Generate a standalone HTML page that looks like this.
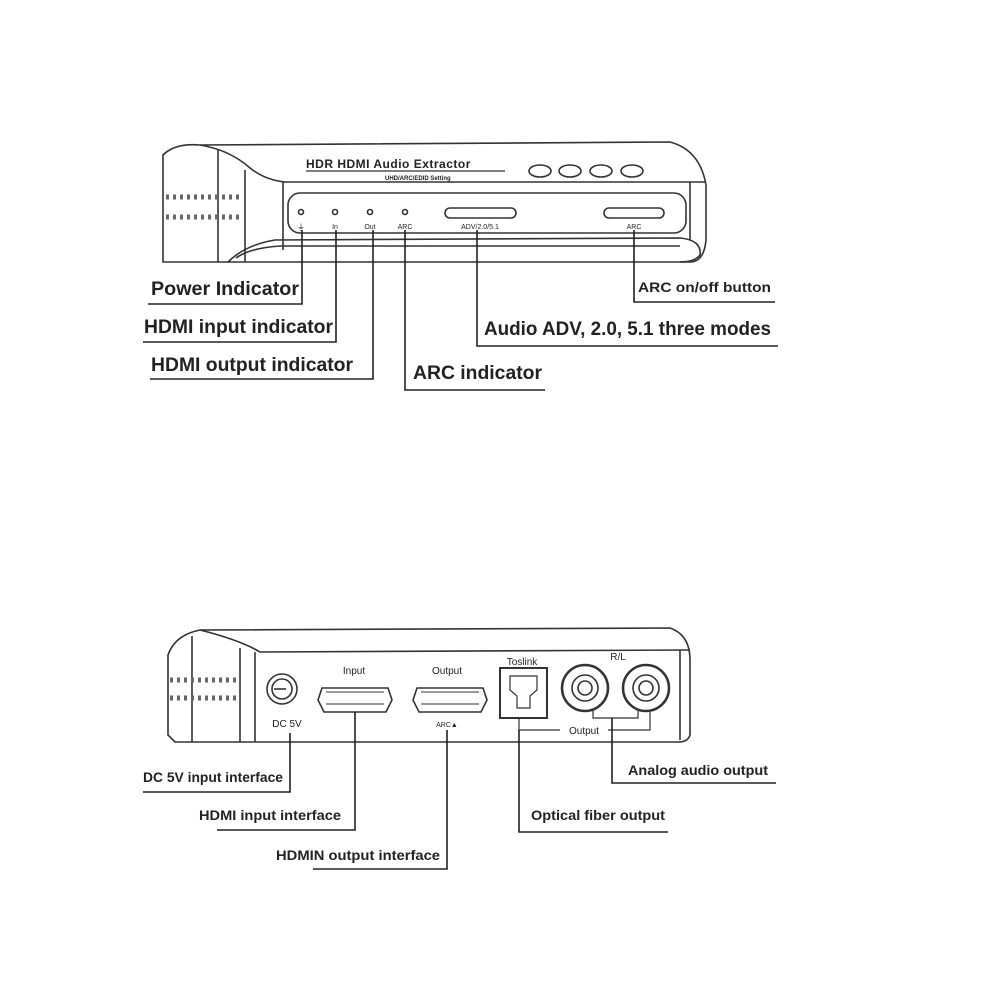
<!DOCTYPE html>
<html><head><style>
html,body{margin:0;padding:0;background:#fff}
svg{display:block}
text{font-family:"Liberation Sans",sans-serif;fill:#222}
.b{font-weight:bold}
</style></head><body>
<svg width="1000" height="1000" viewBox="0 0 1000 1000" xmlns="http://www.w3.org/2000/svg">
<g fill="none" stroke="#333" stroke-width="1.6">
<path d="M163 155 Q175 143 200 145 L670 142 Q700 150 706 185 L706 240 Q704 262 690 262 L240 262 Q228 262 220 262 L163 262 Z"/>
<path d="M200 145 Q230 150 250 168 Q265 180 285 182 L705 182"/>
<line x1="218" y1="150" x2="218" y2="262"/>
<line x1="245" y1="170" x2="245" y2="262"/>
<line x1="283" y1="182" x2="283" y2="250"/>
<line x1="690" y1="182" x2="690" y2="240"/>
<rect x="288" y="193" width="398" height="40" rx="12"/>
<path d="M228 262 Q245 245 275 240 L680 238 Q702 240 700 255 Q695 262 680 262"/>
<path d="M236 258 Q250 248 280 246 L680 246"/>
<ellipse cx="540" cy="171" rx="11" ry="6"/>
<ellipse cx="570" cy="171" rx="11" ry="6"/>
<ellipse cx="601" cy="171" rx="11" ry="6"/>
<ellipse cx="632" cy="171" rx="11" ry="6"/>
<line x1="306" y1="171" x2="505" y2="171" stroke-width="1.2"/>
<circle cx="301" cy="212" r="2.5"/><circle cx="335" cy="212" r="2.5"/><circle cx="370" cy="212" r="2.5"/><circle cx="405" cy="212" r="2.5"/>
<rect x="445" y="208" width="71" height="10" rx="5"/>
<rect x="604" y="208" width="60" height="10" rx="5"/>
</g>
<g fill="#555" font-size="12">
<text x="306" y="168" font-size="12" font-weight="bold" letter-spacing="0.5">HDR HDMI Audio Extractor</text>
<text x="385" y="180" font-size="6" font-weight="bold">UHD/ARC/EDID Setting</text>
<text x="301" y="230" font-size="8" text-anchor="middle">⏚</text>
<text x="335" y="229" font-size="7" text-anchor="middle">In</text>
<text x="370" y="229" font-size="7" text-anchor="middle">Out</text>
<text x="405" y="229" font-size="7" text-anchor="middle">ARC</text>
<text x="480" y="229" font-size="7" text-anchor="middle">ADV/2.0/5.1</text>
<text x="634" y="229" font-size="7" text-anchor="middle">ARC</text>
</g>
<path d="M166 197 h74 M166 217 h74" fill="none" stroke-dasharray="3 4" stroke-width="5" stroke="#666"/>
<g fill="none" stroke="#222" stroke-width="1.6">
<path d="M302 230 V304 H148"/>
<path d="M336 230 V342 H143"/>
<path d="M373 230 V379 H150"/>
<path d="M405 230 V390 H545"/>
<path d="M477 230 V346 H778"/>
<path d="M634 230 V302 H775"/>
</g>
<g font-size="19.5">
<text class="b" x="151" y="295" textLength="148" lengthAdjust="spacingAndGlyphs">Power Indicator</text>
<text class="b" x="144" y="333" textLength="189" lengthAdjust="spacingAndGlyphs">HDMI input indicator</text>
<text class="b" x="151" y="371" textLength="202" lengthAdjust="spacingAndGlyphs">HDMI output indicator</text>
<text class="b" x="413" y="379" textLength="129" lengthAdjust="spacingAndGlyphs">ARC indicator</text>
<text class="b" x="484" y="335" textLength="287" lengthAdjust="spacingAndGlyphs">Audio ADV, 2.0, 5.1 three modes</text>
<text class="b" x="638" y="292" font-size="14" textLength="133" lengthAdjust="spacingAndGlyphs">ARC on/off button</text>
</g>

<g fill="none" stroke="#333" stroke-width="1.6">
<path d="M168 655 Q175 635 200 630 L670 628 Q690 635 690 660 L690 735 Q688 742 678 742 L175 742 L168 735 Z"/>
<path d="M200 630 Q240 640 260 652 L690 650"/>
<line x1="192" y1="636" x2="192" y2="742"/>
<line x1="240" y1="648" x2="240" y2="742"/>
<line x1="255" y1="652" x2="255" y2="742"/>
<line x1="680" y1="650" x2="680" y2="740"/>
<circle cx="282" cy="689" r="15"/><circle cx="282" cy="689" r="10"/>
<line x1="274" y1="689" x2="286" y2="689"/>
<path d="M322 688 H388 L392 700 L386 712 H324 L318 700 Z"/>
<path d="M326 692 H384 M326 704 H384" stroke-width="1"/>
<path d="M417 688 H483 L487 700 L481 712 H419 L413 700 Z"/>
<path d="M421 692 H479 M421 704 H479" stroke-width="1"/>
<rect x="500" y="668" width="47" height="50" stroke-width="2"/>
<path d="M510 676 H537 V690 L530 696 V708 H517 V696 L510 690 Z" stroke-width="1.2"/>
<circle cx="585" cy="688" r="23" stroke-width="2.5"/><circle cx="585" cy="688" r="13"/><circle cx="585" cy="688" r="7"/>
<circle cx="646" cy="688" r="23" stroke-width="2.5"/><circle cx="646" cy="688" r="13"/><circle cx="646" cy="688" r="7"/>
<path d="M519 718 V730 H560 M608 730 H650 V712" stroke-width="1.2"/>
<path d="M593 711 V718 H638 V711" stroke-width="1.2"/>
</g>
<path d="M170 680 h68 M170 698 h68" fill="none" stroke="#666" stroke-width="5" stroke-dasharray="3 4"/>
<g fill="#555" font-size="10">
<text x="354" y="674" text-anchor="middle">Input</text>
<text x="447" y="674" text-anchor="middle">Output</text>
<text x="522" y="665" text-anchor="middle">Toslink</text>
<text x="618" y="660" text-anchor="middle">R/L</text>
<text x="287" y="727" text-anchor="middle">DC 5V</text>
<text x="447" y="727" text-anchor="middle" font-size="7">ARC▲</text>
<text x="584" y="734" text-anchor="middle">Output</text>
</g>
<g fill="none" stroke="#222" stroke-width="1.6">
<path d="M290 733 V792 H143"/>
<path d="M355 712 V830 H217"/>
<path d="M447 730 V869 H313"/>
<path d="M519 730 V832 H668"/>
<path d="M612 718 V783 H776"/>
</g>
<g font-size="14">
<text class="b" x="143" y="782" textLength="140" lengthAdjust="spacingAndGlyphs">DC 5V input interface</text>
<text class="b" x="199" y="820" textLength="142" lengthAdjust="spacingAndGlyphs">HDMI input interface</text>
<text class="b" x="276" y="860" textLength="164" lengthAdjust="spacingAndGlyphs">HDMIN output interface</text>
<text class="b" x="531" y="820" textLength="134" lengthAdjust="spacingAndGlyphs">Optical fiber output</text>
<text class="b" x="628" y="775" textLength="140" lengthAdjust="spacingAndGlyphs">Analog audio output</text>
</g>
</svg>
</body></html>
